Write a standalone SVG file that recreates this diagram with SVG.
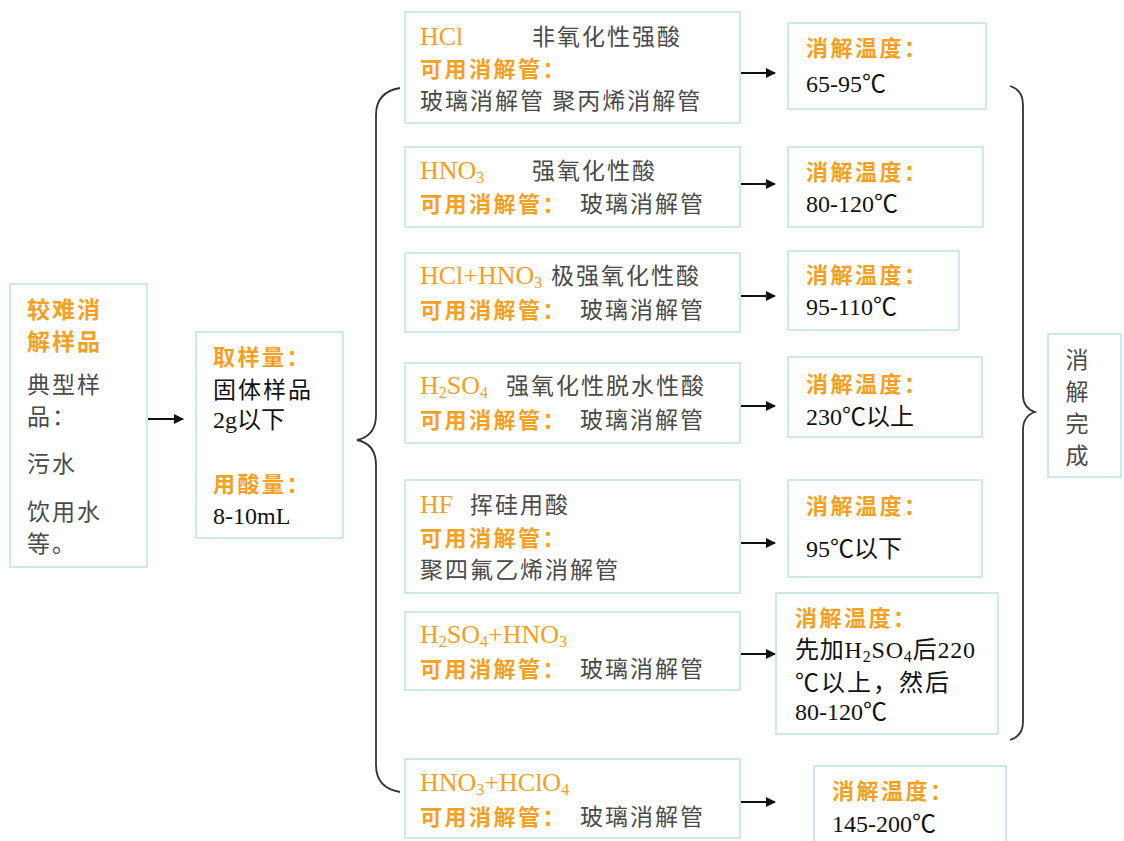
<svg xmlns="http://www.w3.org/2000/svg" width="1124" height="841" viewBox="0 0 1124 841">
<defs>
<style>
.box{fill:#fff;stroke:#bfe2e6;stroke-width:1.5}
.or{fill:#f5a01e;font-family:"Noto Sans CJK SC","Liberation Sans",sans-serif;font-weight:bold;font-size:22px;letter-spacing:2.5px}
.or2{fill:#f5a01e;font-family:"Noto Sans CJK SC","Liberation Sans",sans-serif;font-weight:bold;font-size:23px;letter-spacing:2px}
.orl{fill:#f5a01e;font-family:"Liberation Serif","Noto Sans CJK SC",serif;font-size:26px}
.cn{fill:#4a4a4a;font-family:"Noto Sans CJK SC","Liberation Sans",sans-serif;font-size:23px;letter-spacing:2px}
.bk{fill:#111;font-family:"Liberation Serif","Noto Sans CJK SC",serif;font-size:24px}
.bkc{fill:#111;font-family:"Noto Sans CJK SC","Liberation Sans",sans-serif;font-size:23px;letter-spacing:2px}
.sub{font-size:16px}
.con{stroke:#111;stroke-width:1.8;fill:none}
.brace{stroke:#333;stroke-width:1.8;fill:none}
</style>
<marker id="ah" markerWidth="10" markerHeight="10" refX="9" refY="5" orient="auto" markerUnits="userSpaceOnUse">
<path d="M0,0 L10,5 L0,10 Z" fill="#111"/>
</marker>
</defs>
<rect width="1124" height="841" fill="#fff"/>

<g id="connectors">
<line class="con" x1="148" y1="419" x2="183" y2="419" marker-end="url(#ah)"/>
<line class="con" x1="741" y1="73" x2="775" y2="73" marker-end="url(#ah)"/>
<line class="con" x1="741" y1="184" x2="775" y2="184" marker-end="url(#ah)"/>
<line class="con" x1="741" y1="296" x2="775" y2="296" marker-end="url(#ah)"/>
<line class="con" x1="741" y1="406" x2="775" y2="406" marker-end="url(#ah)"/>
<line class="con" x1="741" y1="543" x2="775" y2="543" marker-end="url(#ah)"/>
<line class="con" x1="741" y1="654" x2="775" y2="654" marker-end="url(#ah)"/>
<line class="con" x1="741" y1="802" x2="775" y2="802" marker-end="url(#ah)"/>
<path class="brace" d="M400,88 Q376,92 376,115 L376,415 Q376,436 357,440 Q376,444 376,465 L376,765 Q376,788 400,792"/>
<path class="brace" d="M1010,86 Q1023,90 1023,105 L1023,395 Q1023,408 1035,412 Q1023,416 1023,430 L1023,722 Q1023,736 1010,740"/>
</g>

<g id="sample">
<rect class="box" x="10" y="284" width="137" height="283"/>
<text class="or2" x="27" y="318">较难消</text>
<text class="or2" x="27" y="350">解样品</text>
<text class="cn" x="27" y="393">典型样</text>
<text class="cn" x="27" y="425">品：</text>
<text class="cn" x="27" y="472">污水</text>
<text class="cn" x="27" y="520">饮用水</text>
<text class="cn" x="27" y="552">等。</text>
</g>

<g id="amount">
<rect class="box" x="196" y="332" width="147" height="206"/>
<text class="or" x="213" y="365">取样量：</text>
<text class="bkc" x="213" y="398">固体样品</text>
<text class="bk" x="213" y="428">2g以下</text>
<text class="or" x="213" y="492">用酸量：</text>
<text class="bk" x="213" y="524">8-10mL</text>
</g>

<g id="acid1">
<rect class="box" x="405" y="12" width="335" height="111"/>
<text class="orl" x="420" y="45">HCl</text>
<text class="cn" x="532" y="45">非氧化性强酸</text>
<text class="or" x="420" y="77">可用消解管：</text>
<text class="cn" x="420" y="109">玻璃消解管 聚丙烯消解管</text>
</g>
<g id="acid2">
<rect class="box" x="405" y="147" width="335" height="80"/>
<text class="orl" x="420" y="179">HNO<tspan class="sub" dy="4">3</tspan></text>
<text class="cn" x="532" y="179">强氧化性酸</text>
<text class="or" x="420" y="212">可用消解管：</text>
<text class="cn" x="580" y="212">玻璃消解管</text>
</g>
<g id="acid3">
<rect class="box" x="405" y="253" width="335" height="79"/>
<text class="orl" x="420" y="284">HCl+HNO<tspan class="sub" dy="4">3</tspan></text>
<text class="cn" x="551" y="284">极强氧化性酸</text>
<text class="or" x="420" y="318">可用消解管：</text>
<text class="cn" x="580" y="318">玻璃消解管</text>
</g>
<g id="acid4">
<rect class="box" x="405" y="363" width="335" height="80"/>
<text class="orl" x="420" y="394">H<tspan class="sub" dy="4">2</tspan><tspan dy="-4">SO</tspan><tspan class="sub" dy="4">4</tspan></text>
<text class="cn" x="506" y="394">强氧化性脱水性酸</text>
<text class="or" x="420" y="428">可用消解管：</text>
<text class="cn" x="580" y="428">玻璃消解管</text>
</g>
<g id="acid5">
<rect class="box" x="405" y="480" width="335" height="113"/>
<text class="orl" x="420" y="513">HF</text>
<text class="cn" x="470" y="513">挥硅用酸</text>
<text class="or" x="420" y="546">可用消解管：</text>
<text class="cn" x="420" y="578">聚四氟乙烯消解管</text>
</g>
<g id="acid6">
<rect class="box" x="405" y="612" width="335" height="78"/>
<text class="orl" x="420" y="643">H<tspan class="sub" dy="4">2</tspan><tspan dy="-4">SO</tspan><tspan class="sub" dy="4">4</tspan><tspan dy="-4">+HNO</tspan><tspan class="sub" dy="4">3</tspan></text>
<text class="or" x="420" y="677">可用消解管：</text>
<text class="cn" x="580" y="677">玻璃消解管</text>
</g>
<g id="acid7">
<rect class="box" x="405" y="759" width="335" height="79"/>
<text class="orl" x="420" y="791">HNO<tspan class="sub" dy="4">3</tspan><tspan dy="-4">+HClO</tspan><tspan class="sub" dy="4">4</tspan></text>
<text class="or" x="420" y="825">可用消解管：</text>
<text class="cn" x="580" y="825">玻璃消解管</text>
</g>

<g id="temp1">
<rect class="box" x="788" y="23" width="198" height="86"/>
<text class="or" x="806" y="56">消解温度：</text>
<text class="bk" x="806" y="92">65-95℃</text>
</g>
<g id="temp2">
<rect class="box" x="788" y="147" width="195" height="80"/>
<text class="or" x="806" y="180">消解温度：</text>
<text class="bk" x="806" y="212">80-120℃</text>
</g>
<g id="temp3">
<rect class="box" x="788" y="251" width="171" height="79"/>
<text class="or" x="806" y="283">消解温度：</text>
<text class="bk" x="806" y="315">95-110℃</text>
</g>
<g id="temp4">
<rect class="box" x="788" y="357" width="194" height="80"/>
<text class="or" x="806" y="392">消解温度：</text>
<text class="bk" x="806" y="425">230℃以上</text>
</g>
<g id="temp5">
<rect class="box" x="788" y="480" width="194" height="97"/>
<text class="or" x="806" y="514">消解温度：</text>
<text class="bk" x="806" y="557">95℃以下</text>
</g>
<g id="temp6">
<rect class="box" x="776" y="593" width="222" height="141"/>
<text class="or" x="795" y="626">消解温度：</text>
<text class="bk" x="795" y="658" letter-spacing="0.8">先加H<tspan class="sub" dy="4">2</tspan><tspan dy="-4">SO</tspan><tspan class="sub" dy="4">4</tspan><tspan dy="-4">后220</tspan></text>
<text class="bk" x="795" y="691" letter-spacing="2">℃以上，然后</text>
<text class="bk" x="795" y="720">80-120℃</text>
</g>
<g id="temp7">
<rect class="box" x="814" y="766" width="192" height="80"/>
<text class="or" x="832" y="799">消解温度：</text>
<text class="bk" x="832" y="832">145-200℃</text>
</g>

<g id="done">
<rect class="box" x="1048" y="334" width="73" height="143"/>
<text class="cn" x="1078" y="368" text-anchor="middle" letter-spacing="0">消</text>
<text class="cn" x="1078" y="400" text-anchor="middle" letter-spacing="0">解</text>
<text class="cn" x="1078" y="432" text-anchor="middle" letter-spacing="0">完</text>
<text class="cn" x="1078" y="464" text-anchor="middle" letter-spacing="0">成</text>
</g>
</svg>
